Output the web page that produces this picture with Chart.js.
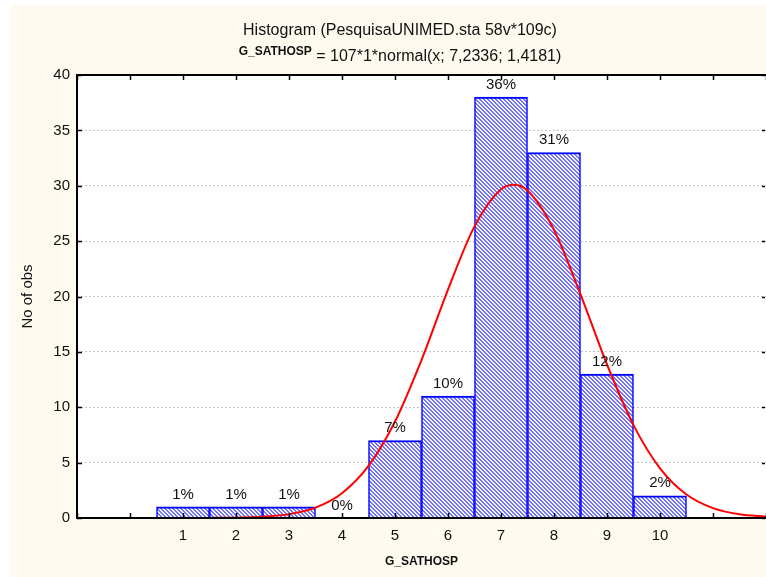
<!DOCTYPE html>
<html>
<head>
<meta charset="utf-8">
<script src="https://cdn.jsdelivr.net/npm/chart.js@4/dist/chart.umd.min.js"></script>
<style>
    body { margin: 0; background: #ffffff; }
    #wrap { width: 766px; height: 577px; }
</style>
</head>
<body>
<div id="wrap"><canvas id="histo" width="766" height="577"></canvas></div>
<script>
// histogram bins and counts (G_SATHOSP)
const binCenters = [1, 2, 3, 4, 5, 6, 7, 8, 9, 10];
const binCounts = [1, 1, 1, 0, 7, 11, 38, 33, 13, 2];
const pctLabels = ['1%', '1%', '1%', '0%', '7%', '10%', '36%', '31%', '12%', '2%'];

// fitted normal curve, read at these x positions
const curveX = [-1, -0.5, 0, 0.5, 1, 1.5, 2, 2.5, 3, 3.5, 4, 4.5, 5, 5.5, 6, 6.5, 7, 7.25, 7.5, 8, 8.5, 9, 9.5, 10, 10.5, 11, 11.5, 12];
const curveY = [0, 0, 0, 0, 0, 0.01, 0.03, 0.12, 0.35, 0.94, 2.24, 4.70, 8.71, 14.26, 20.62, 26.33, 29.69, 30.10, 29.57, 26.01, 20.20, 13.86, 8.39, 4.49, 2.12, 0.89, 0.33, 0.11];

const xTicks = [-1, 0, 1, 2, 3, 4, 5, 6, 7, 8, 9, 10, 11, 12];
const yTicks = [0, 5, 10, 15, 20, 25, 30, 35, 40];

const titleText = 'Histogram (PesquisaUNIMED.sta 58v*109c)';
const fitVar = 'G_SATHOSP';
const fitText = ' = 107*1*normal(x; 7,2336; 1,4181)';

function hatchPattern() {
    let c = document.createElement('canvas');
    c.width = 4;
    c.height = 4;
    let cx = c.getContext('2d');
    let img = cx.createImageData(4, 4);
    for (let y = 0; y < 4; y++) {
        for (let x = 0; x < 4; x++) {
            let i = (y * 4 + x) * 4;
            let on = ((x - y + 8) % 4) < 2;
            img.data[i] = on ? 115 : 245;
            img.data[i + 1] = on ? 115 : 245;
            img.data[i + 2] = on ? 248 : 255;
            img.data[i + 3] = 255;
        }
    }
    cx.putImageData(img, 0, 0);
    return cx.createPattern(c, 'repeat');
}

const frame = {
    id: 'frame',
    beforeDraw(chart) {
        const ctx = chart.ctx;
        const a = chart.chartArea;
        ctx.save();
        ctx.fillStyle = '#ffffff';
        ctx.fillRect(0, 0, chart.width, chart.height);
        ctx.fillStyle = '#fffaf0';
        ctx.fillRect(10, 5, chart.width - 10, chart.height - 5);
        ctx.fillStyle = '#ffffff';
        ctx.fillRect(a.left, a.top, a.right - a.left, a.bottom - a.top);
        ctx.restore();
    },
    afterDatasetsDraw(chart) {
        const ctx = chart.ctx;
        const a = chart.chartArea;
        const xs = chart.scales.x;
        const ys = chart.scales.y;
        ctx.save();

        // percent labels over bars
        ctx.fillStyle = '#111';
        ctx.font = '15px "Liberation Sans", Arial, sans-serif';
        ctx.textAlign = 'center';
        ctx.textBaseline = 'bottom';
        binCenters.forEach((b, i) => {
            ctx.fillText(pctLabels[i], xs.getPixelForValue(b), ys.getPixelForValue(binCounts[i]) - 5);
        });

        // axis frame
        ctx.strokeStyle = '#000';
        ctx.lineWidth = 2;
        ctx.beginPath();
        ctx.moveTo(a.left, a.top);
        ctx.lineTo(a.left, a.bottom);
        ctx.moveTo(a.left - 1, a.bottom);
        ctx.lineTo(a.right + 1, a.bottom);
        ctx.moveTo(a.left - 1, a.top);
        ctx.lineTo(a.right + 1, a.top);
        ctx.stroke();

        // inside tick marks
        ctx.lineWidth = 1.5;
        ctx.beginPath();
        xTicks.forEach(t => {
            let px = Math.round(xs.getPixelForValue(t)) + 0.5;
            ctx.moveTo(px, a.bottom);
            ctx.lineTo(px, a.bottom - 5);
            ctx.moveTo(px, a.top);
            ctx.lineTo(px, a.top + 5);
        });
        yTicks.forEach(t => {
            let py = Math.round(ys.getPixelForValue(t)) + 0.5;
            ctx.moveTo(a.left, py);
            ctx.lineTo(a.left + 5, py);
            ctx.moveTo(765, py);
            ctx.lineTo(762, py);
        });
        ctx.stroke();

        // titles
        ctx.fillStyle = '#111';
        ctx.textBaseline = 'alphabetic';
        ctx.textAlign = 'center';
        ctx.font = '16px "Liberation Sans", Arial, sans-serif';
        ctx.fillText(titleText, 400, 35);
        ctx.textAlign = 'left';
        ctx.font = 'bold 12px "Liberation Sans", Arial, sans-serif';
        let w1 = ctx.measureText(fitVar).width;
        ctx.font = '16px "Liberation Sans", Arial, sans-serif';
        let w2 = ctx.measureText(fitText).width;
        let x0 = 400 - (w1 + w2) / 2;
        ctx.font = 'bold 12px "Liberation Sans", Arial, sans-serif';
        ctx.fillText(fitVar, x0, 55);
        ctx.font = '16px "Liberation Sans", Arial, sans-serif';
        ctx.fillText(fitText, x0 + w1, 61);
        ctx.restore();
    }
};

const data = {
    datasets: [
        {
            type: 'line',
            data: curveX.map((x, i) => ({x: x, y: curveY[i]})),
            borderColor: '#ff0000',
            borderWidth: 2,
            pointRadius: 0,
            cubicInterpolationMode: 'monotone',
            fill: false,
            order: 0
        },
        {
            type: 'bar',
            data: binCenters.map((x, i) => ({x: x, y: binCounts[i]})),
            backgroundColor: hatchPattern(),
            borderColor: '#0000ff',
            borderWidth: {top: 2, left: 1.5, right: 1.5, bottom: 0},
            borderSkipped: false,
            barPercentage: 1,
            categoryPercentage: 1,
            order: 1
        }
    ]
};

const config = {
    type: 'bar',
    data: data,
    options: {
        responsive: false,
        animation: false,
        devicePixelRatio: 1,
        layout: {
            padding: {left: 10, top: 75, right: -3, bottom: 0}
        },
        plugins: {
            legend: {display: false},
            tooltip: {enabled: false}
        },
        scales: {
            x: {
                type: 'linear',
                min: -1,
                max: 12,
                offset: false,
                afterFit(scale) {
                    scale.height = 59;
                    scale.paddingLeft = 0;
                    scale.paddingRight = 0;
                },
                afterBuildTicks(scale) { scale.ticks = xTicks.map(v => ({value: v})); },
                ticks: {
                    color: '#111',
                    padding: 9,
                    maxRotation: 0,
                    font: {family: '"Liberation Sans", Arial, sans-serif', size: 15},
                    callback: v => (v >= 1 && v <= 10 ? String(v) : '')
                },
                grid: {display: false, drawTicks: false},
                border: {display: false},
                title: {
                    display: true,
                    text: 'G_SATHOSP',
                    color: '#111',
                    padding: {top: 0, bottom: 8},
                    font: {family: '"Liberation Sans", Arial, sans-serif', size: 12, weight: 'bold'}
                }
            },
            y: {
                min: 0,
                max: 40,
                afterFit(scale) {
                    scale.width = 67;
                    scale.paddingTop = 0;
                    scale.paddingBottom = 0;
                },
                afterBuildTicks(scale) { scale.ticks = yTicks.map(v => ({value: v})); },
                ticks: {
                    color: '#111',
                    padding: 7,
                    font: {family: '"Liberation Sans", Arial, sans-serif', size: 15}
                },
                grid: {color: '#c4c4c4', lineWidth: 1, drawTicks: false},
                border: {display: false, dash: [2, 2]},
                title: {
                    display: true,
                    text: 'No of obs',
                    color: '#111',
                    padding: {top: 9, bottom: 0},
                    font: {family: '"Liberation Sans", Arial, sans-serif', size: 15}
                }
            }
        }
    },
    plugins: [frame]
};

let ctx = document.getElementById('histo').getContext('2d');
new Chart(ctx, config);
</script>
</body>
</html>
